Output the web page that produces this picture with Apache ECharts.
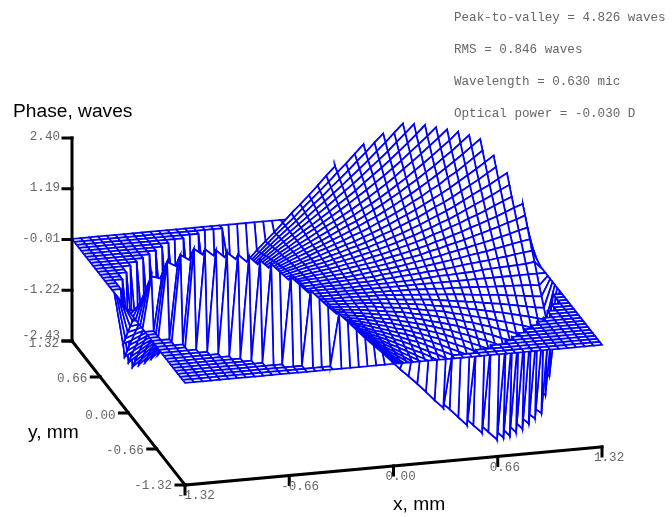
<!DOCTYPE html><html><head><meta charset="utf-8"><style>html,body{margin:0;padding:0;background:#fff}#c{width:672px;height:517px}</style>
<script src="https://cdn.jsdelivr.net/npm/echarts@6/dist/echarts.min.js"></script></head><body><div id="c"></div><script>
var xTicks=["-1.32","-0.66","0.00","0.66","1.32"];
var yTicks=["-1.32","-0.66","0.00","0.66","1.32"];
var zTicks=["-2.43","-1.22","-0.01","1.19","2.40"];
var notes=["Peak-to-valley = 4.826 waves","RMS = 0.846 waves","Wavelength = 0.630 mic","Optical power = -0.030 D"];
var gridSize=49;
// phase in waves over the circular aperture, one row per y from -1.32 to 1.32, centred on x=0; the mesh outside the aperture is 0
var phaseRows=[
[],
[1.23,1.03,.81,.6,.4,.21,0,-.21,-.4,-.6,-.81,-1.03,-1.23],
[1.77,1.56,1.35,1.16,.95,.76,.57,.38,.18,0,-.18,-.38,-.57,-.76,-.95,-1.16,-1.35,-1.56,-1.77],
[2.06,1.86,1.65,1.46,1.26,1.07,.89,.7,.53,.35,.17,0,-.17,-.35,-.53,-.7,-.89,-1.07,-1.26,-1.46,-1.65,-1.86,-2.06],
[2.33,2.13,1.92,1.73,1.53,1.35,1.17,.99,.82,.65,.49,.32,.16,0,-.16,-.32,-.49,-.65,-.82,-.99,-1.17,-1.35,-1.53,-1.73,-1.92,-2.13,-2.33],
[2.37,2.17,1.98,1.78,1.6,1.43,1.25,1.08,.92,.76,.6,.45,.3,.15,0,-.15,-.3,-.45,-.6,-.76,-.92,-1.08,-1.25,-1.43,-1.6,-1.78,-1.98,-2.17,-2.37],
[2.4,2.2,2.01,1.83,1.65,1.48,1.32,1.16,.99,.84,.7,.55,.41,.27,.14,0,-.14,-.27,-.41,-.55,-.7,-.84,-.99,-1.16,-1.32,-1.48,-1.65,-1.83,-2.01,-2.2,-2.42],
[2.4,2.21,2.03,1.86,1.68,1.52,1.36,1.21,1.06,.92,.78,.64,.51,.38,.25,.13,0,-.13,-.25,-.38,-.51,-.64,-.78,-.92,-1.06,-1.21,-1.36,-1.52,-1.68,-1.86,-2.03,-2.21,-2.43],
[2.4,2.22,2.05,1.88,1.71,1.56,1.39,1.24,1.1,.96,.83,.7,.58,.46,.35,.23,.11,0,-.11,-.23,-.35,-.46,-.58,-.7,-.83,-.96,-1.1,-1.24,-1.39,-1.56,-1.71,-1.88,-2.05,-2.22,-2.43],
[2.4,2.21,2.05,1.88,1.72,1.57,1.41,1.27,1.13,1,.87,.76,.64,.53,.42,.31,.21,.1,0,-.1,-.21,-.31,-.42,-.53,-.64,-.76,-.87,-1,-1.13,-1.27,-1.41,-1.57,-1.72,-1.88,-2.05,-2.21,-2.4],
[2.37,2.2,2.03,1.88,1.72,1.58,1.43,1.3,1.16,1.04,.91,.8,.68,.57,.48,.38,.28,.18,.09,0,-.09,-.18,-.28,-.38,-.48,-.57,-.68,-.8,-.91,-1.04,-1.16,-1.3,-1.43,-1.58,-1.72,-1.88,-2.03,-2.2,-2.37],
[2.33,2.17,2.01,1.86,1.71,1.57,1.43,1.3,1.17,1.05,.93,.82,.71,.62,.52,.42,.33,.25,.16,.08,0,-.08,-.16,-.25,-.33,-.42,-.52,-.62,-.71,-.82,-.93,-1.05,-1.17,-1.3,-1.43,-1.57,-1.71,-1.86,-2.01,-2.17,-2.33],
[2.13,1.98,1.83,1.68,1.56,1.41,1.3,1.17,1.06,.94,.83,.73,.64,.54,.45,.38,.29,.22,.14,.08,0,-.08,-.14,-.22,-.29,-.38,-.45,-.54,-.64,-.73,-.83,-.94,-1.06,-1.17,-1.3,-1.41,-1.56,-1.68,-1.83,-1.98,-2.13],
[2.06,1.92,1.78,1.65,1.52,1.39,1.27,1.16,1.05,.94,.84,.75,.65,.56,.48,.4,.32,.26,.19,.13,.06,0,-.06,-.13,-.19,-.26,-.32,-.4,-.48,-.56,-.65,-.75,-.84,-.94,-1.05,-1.16,-1.27,-1.39,-1.52,-1.65,-1.78,-1.92,-2.06],
[1.86,1.73,1.6,1.48,1.36,1.24,1.13,1.04,.93,.83,.75,.66,.57,.5,.42,.35,.28,.23,.16,.11,.05,0,-.05,-.11,-.16,-.23,-.28,-.35,-.42,-.5,-.57,-.66,-.75,-.83,-.93,-1.04,-1.13,-1.24,-1.36,-1.48,-1.6,-1.73,-1.86],
[1.77,1.65,1.53,1.43,1.32,1.21,1.1,1,.91,.82,.73,.65,.57,.5,.43,.37,.3,.25,.19,.14,.09,.04,0,-.04,-.09,-.14,-.19,-.25,-.3,-.37,-.43,-.5,-.57,-.65,-.73,-.82,-.91,-1,-1.1,-1.21,-1.32,-1.43,-1.53,-1.65,-1.77],
[1.56,1.46,1.35,1.25,1.16,1.06,.96,.87,.8,.71,.64,.56,.5,.43,.37,.31,.26,.21,.16,.12,.08,.03,0,-.03,-.08,-.12,-.16,-.21,-.26,-.31,-.37,-.43,-.5,-.56,-.64,-.71,-.8,-.87,-.96,-1.06,-1.16,-1.25,-1.35,-1.46,-1.56],
[1.35,1.26,1.17,1.08,.99,.92,.83,.76,.68,.62,.54,.48,.42,.37,.31,.26,.22,.17,.13,.1,.06,.03,0,-.03,-.06,-.1,-.13,-.17,-.22,-.26,-.31,-.37,-.42,-.48,-.54,-.62,-.68,-.76,-.83,-.92,-.99,-1.08,-1.17,-1.26,-1.35],
[1.23,1.16,1.07,.99,.92,.84,.78,.7,.64,.57,.52,.45,.4,.35,.3,.26,.22,.17,.14,.11,.08,.05,.02,0,-.02,-.05,-.08,-.11,-.14,-.17,-.22,-.26,-.3,-.35,-.4,-.45,-.52,-.57,-.64,-.7,-.78,-.84,-.92,-.99,-1.07,-1.16,-1.23],
[1.03,.95,.89,.82,.76,.7,.64,.58,.53,.48,.42,.38,.32,.28,.25,.21,.17,.14,.11,.09,.05,.03,.02,0,-.02,-.03,-.05,-.09,-.11,-.14,-.17,-.21,-.25,-.28,-.32,-.38,-.42,-.48,-.53,-.58,-.64,-.7,-.76,-.82,-.89,-.95,-1.03],
[.81,.76,.7,.65,.6,.55,.51,.46,.42,.38,.33,.29,.26,.23,.19,.16,.13,.11,.09,.06,.04,.02,.01,0,-.01,-.02,-.04,-.06,-.09,-.11,-.13,-.16,-.19,-.23,-.26,-.29,-.33,-.38,-.42,-.46,-.51,-.55,-.6,-.65,-.7,-.76,-.81],
[.6,.57,.53,.49,.45,.41,.38,.35,.31,.28,.25,.22,.19,.16,.14,.12,.1,.08,.05,.04,.03,.02,.01,0,-.01,-.02,-.03,-.04,-.05,-.08,-.1,-.12,-.14,-.16,-.19,-.22,-.25,-.28,-.31,-.35,-.38,-.41,-.45,-.49,-.53,-.57,-.6],
[.4,.38,.35,.32,.3,.27,.25,.23,.21,.18,.16,.14,.13,.11,.09,.08,.06,.05,.03,.02,.02,.01,0,0,0,-.01,-.02,-.02,-.03,-.05,-.06,-.08,-.09,-.11,-.13,-.14,-.16,-.18,-.21,-.23,-.25,-.27,-.3,-.32,-.35,-.38,-.4],
[.21,.18,.17,.16,.15,.14,.13,.11,.1,.09,.08,.08,.06,.05,.04,.03,.03,.02,.02,.01,.01,0,0,0,0,0,-.01,-.01,-.02,-.02,-.03,-.03,-.04,-.05,-.06,-.08,-.08,-.09,-.1,-.11,-.13,-.14,-.15,-.16,-.17,-.18,-.21],
[],
[-.21,-.18,-.17,-.16,-.15,-.14,-.13,-.11,-.1,-.09,-.08,-.08,-.06,-.05,-.04,-.03,-.03,-.02,-.02,-.01,-.01,0,0,0,0,0,.01,.01,.02,.02,.03,.03,.04,.05,.06,.08,.08,.09,.1,.11,.13,.14,.15,.16,.17,.18,.21],
[-.4,-.38,-.35,-.32,-.3,-.27,-.25,-.23,-.21,-.18,-.16,-.14,-.13,-.11,-.09,-.08,-.06,-.05,-.03,-.02,-.02,-.01,0,0,0,.01,.02,.02,.03,.05,.06,.08,.09,.11,.13,.14,.16,.18,.21,.23,.25,.27,.3,.32,.35,.38,.4],
[-.6,-.57,-.53,-.49,-.45,-.41,-.38,-.35,-.31,-.28,-.25,-.22,-.19,-.16,-.14,-.12,-.1,-.08,-.05,-.04,-.03,-.02,-.01,0,.01,.02,.03,.04,.05,.08,.1,.12,.14,.16,.19,.22,.25,.28,.31,.35,.38,.41,.45,.49,.53,.57,.6],
[-.81,-.76,-.7,-.65,-.6,-.55,-.51,-.46,-.42,-.38,-.33,-.29,-.26,-.23,-.19,-.16,-.13,-.11,-.09,-.06,-.04,-.02,-.01,0,.01,.02,.04,.06,.09,.11,.13,.16,.19,.23,.26,.29,.33,.38,.42,.46,.51,.55,.6,.65,.7,.76,.81],
[-1.03,-.95,-.89,-.82,-.76,-.7,-.64,-.58,-.53,-.48,-.42,-.38,-.32,-.28,-.25,-.21,-.17,-.14,-.11,-.09,-.05,-.03,-.02,0,.02,.03,.05,.09,.11,.14,.17,.21,.25,.28,.32,.38,.42,.48,.53,.58,.64,.7,.76,.82,.89,.95,1.03],
[-1.23,-1.16,-1.07,-.99,-.92,-.84,-.78,-.7,-.64,-.57,-.52,-.45,-.4,-.35,-.3,-.26,-.22,-.17,-.14,-.11,-.08,-.05,-.02,0,.02,.05,.08,.11,.14,.17,.22,.26,.3,.35,.4,.45,.52,.57,.64,.7,.78,.84,.92,.99,1.07,1.16,1.23],
[-1.35,-1.26,-1.17,-1.08,-.99,-.92,-.83,-.76,-.68,-.62,-.54,-.48,-.42,-.37,-.31,-.26,-.22,-.17,-.13,-.1,-.06,-.03,0,.03,.06,.1,.13,.17,.22,.26,.31,.37,.42,.48,.54,.62,.68,.76,.83,.92,.99,1.08,1.17,1.26,1.35],
[-1.56,-1.46,-1.35,-1.25,-1.16,-1.06,-.96,-.87,-.8,-.71,-.64,-.56,-.5,-.43,-.37,-.31,-.26,-.21,-.16,-.12,-.08,-.03,0,.03,.08,.12,.16,.21,.26,.31,.37,.43,.5,.56,.64,.71,.8,.87,.96,1.06,1.16,1.25,1.35,1.46,1.56],
[-1.77,-1.65,-1.53,-1.43,-1.32,-1.21,-1.1,-1,-.91,-.82,-.73,-.65,-.57,-.5,-.43,-.37,-.3,-.25,-.19,-.14,-.09,-.04,0,.04,.09,.14,.19,.25,.3,.37,.43,.5,.57,.65,.73,.82,.91,1,1.1,1.21,1.32,1.43,1.53,1.65,1.77],
[-1.86,-1.73,-1.6,-1.48,-1.36,-1.24,-1.13,-1.04,-.93,-.83,-.75,-.66,-.57,-.5,-.42,-.35,-.28,-.23,-.16,-.11,-.05,0,.05,.11,.16,.23,.28,.35,.42,.5,.57,.66,.75,.83,.93,1.04,1.13,1.24,1.36,1.48,1.6,1.73,1.86],
[-2.06,-1.92,-1.78,-1.65,-1.52,-1.39,-1.27,-1.16,-1.05,-.94,-.84,-.75,-.65,-.56,-.48,-.4,-.32,-.26,-.19,-.13,-.06,0,.06,.13,.19,.26,.32,.4,.48,.56,.65,.75,.84,.94,1.05,1.16,1.27,1.39,1.52,1.65,1.78,1.92,2.06],
[-2.13,-1.98,-1.83,-1.68,-1.56,-1.41,-1.3,-1.17,-1.06,-.94,-.83,-.73,-.64,-.54,-.45,-.38,-.29,-.22,-.14,-.08,0,.08,.14,.22,.29,.38,.45,.54,.64,.73,.83,.94,1.06,1.17,1.3,1.41,1.56,1.68,1.83,1.98,2.13],
[-2.33,-2.17,-2.01,-1.86,-1.71,-1.57,-1.43,-1.3,-1.17,-1.05,-.93,-.82,-.71,-.62,-.52,-.42,-.33,-.25,-.16,-.08,0,.08,.16,.25,.33,.42,.52,.62,.71,.82,.93,1.05,1.17,1.3,1.43,1.57,1.71,1.86,2.01,2.17,2.33],
[-2.37,-2.2,-2.03,-1.88,-1.72,-1.58,-1.43,-1.3,-1.16,-1.04,-.91,-.8,-.68,-.57,-.48,-.38,-.28,-.18,-.09,0,.09,.18,.28,.38,.48,.57,.68,.8,.91,1.04,1.16,1.3,1.43,1.58,1.72,1.88,2.03,2.2,2.37],
[-2.4,-2.21,-2.05,-1.88,-1.72,-1.57,-1.41,-1.27,-1.13,-1,-.87,-.76,-.64,-.53,-.42,-.31,-.21,-.1,0,.1,.21,.31,.42,.53,.64,.76,.87,1,1.13,1.27,1.41,1.57,1.72,1.88,2.05,2.21,2.4],
[-2.4,-2.22,-2.05,-1.88,-1.71,-1.56,-1.39,-1.24,-1.1,-.96,-.83,-.7,-.58,-.46,-.35,-.23,-.11,0,.11,.23,.35,.46,.58,.7,.83,.96,1.1,1.24,1.39,1.56,1.71,1.88,2.05,2.22,2.4],
[-2.4,-2.21,-2.03,-1.86,-1.68,-1.52,-1.36,-1.21,-1.06,-.92,-.78,-.64,-.51,-.38,-.25,-.13,0,.13,.25,.38,.51,.64,.78,.92,1.06,1.21,1.36,1.52,1.68,1.86,2.03,2.21,2.4],
[-2.4,-2.2,-2.01,-1.83,-1.65,-1.48,-1.32,-1.16,-.99,-.84,-.7,-.55,-.41,-.27,-.14,0,.14,.27,.41,.55,.7,.84,.99,1.16,1.32,1.48,1.65,1.83,2.01,2.2,2.4],
[-2.37,-2.17,-1.98,-1.78,-1.6,-1.43,-1.25,-1.08,-.92,-.76,-.6,-.45,-.3,-.15,0,.15,.3,.45,.6,.76,.92,1.08,1.25,1.43,1.6,1.78,1.98,2.17,2.37],
[-2.33,-2.13,-1.92,-1.73,-1.53,-1.35,-1.17,-.99,-.82,-.65,-.49,-.32,-.16,0,.16,.32,.49,.65,.82,.99,1.17,1.35,1.53,1.73,1.92,2.13,2.33],
[-2.06,-1.86,-1.65,-1.46,-1.26,-1.07,-.89,-.7,-.53,-.35,-.17,0,.17,.35,.53,.7,.89,1.07,1.26,1.46,1.65,1.86,2.06],
[-1.77,-1.56,-1.35,-1.16,-.95,-.76,-.57,-.38,-.18,0,.18,.38,.57,.76,.95,1.16,1.35,1.56,1.77],
[-1.23,-1.03,-.81,-.6,-.4,-.21,0,.21,.4,.6,.81,1.03,1.23],
[]
];
var N=gridSize;
function zAt(i,j){var r=phaseRows[j],m=(N-r.length)/2,k=i-m;return k>=0&&k<r.length?r[k]:0}
function P(u,v,w){return [185+417*u-113*v,485-38*u-144*v-203*w]}
function WZ(z){return (z+2.43)/4.83}
var q=[];for(var j=N-2;j>=0;j--)for(var i=N-2;i>=0;i--)q.push([i,j]);
function qr(p,api){var i=api.value(0),j=api.value(1),s=1/(N-1),c=[[i,j],[i+1,j],[i+1,j+1],[i,j+1]].map(function(k){return api.coord(P(k[0]*s,k[1]*s,WZ(zAt(k[0],k[1]))))});
return {type:'polygon',shape:{points:c},style:{fill:'#fff',stroke:'#0000ff',lineWidth:1.7,lineJoin:'miter'}}}
var seg=[],txt=[];
function L(a,b,w){seg.push([a,b,w])}
L(P(0,1,1),P(0,1,0),3);L(P(0,1,0),P(0,0,0),3);L(P(0,0,0),P(1,0,0),3);
var mono='"Liberation Mono",monospace';
function T(x,y,s,al,col,fs,ff){txt.push([x,y,s,al,col,fs,ff])}
var G='#666',K='#000',zo=[-5,-1,-1,-1,-1],yo=[1,2,3,2,3];
for(var k=0;k<5;k++){var a=P(0,1,k/4);L([a[0]-9,a[1]],a,3);T(a[0]-12,a[1]+zo[k],zTicks[k],'right',G,12.6,mono);
a=P(0,k/4,0);L([a[0]-9,a[1]],a,3);T(a[0]-13,a[1]+yo[k],yTicks[k],'right',G,12.6,mono);
a=P(k/4,0,0);L(a,[a[0],a[1]+9],3);T(a[0]-8,a[1]+11,xTicks[k],'left',G,12.6,mono);}
notes.forEach(function(s,k){T(454,17.5+32*k,s,'left',G,12.6,mono)});
var sans='"Liberation Sans",sans-serif';
T(13,112,"Phase, waves",'left',K,19.2,sans);T(28,433,"y, mm",'left',K,19.2,sans);T(393,505,"x, mm",'left',K,19.2,sans);
var chart=echarts.init(document.getElementById('c'),null,{renderer:'canvas'});
chart.setOption({animation:false,grid:{left:0,right:0,top:0,bottom:0},
xAxis:{type:'value',min:0,max:672,show:false},yAxis:{type:'value',min:0,max:517,inverse:true,show:false},
series:[{type:'custom',silent:true,clip:false,data:q,progressive:0,renderItem:qr,encode:{x:0,y:1}},
{type:'custom',silent:true,clip:false,data:seg.map(function(s,i){return [i]}),progressive:0,renderItem:function(p,api){var s=seg[api.value(0)],a=api.coord(s[0]),b=api.coord(s[1]);return {type:'line',shape:{x1:a[0],y1:a[1],x2:b[0],y2:b[1]},style:{stroke:'#000',lineWidth:s[2],lineCap:'square'}}}},
{type:'custom',silent:true,clip:false,data:txt.map(function(s,i){return [i]}),progressive:0,renderItem:function(p,api){var s=txt[api.value(0)],a=api.coord([s[0],s[1]]);return {type:'text',x:a[0],y:a[1],style:{text:s[2],textAlign:s[3],textVerticalAlign:'middle',fill:s[4],fontSize:s[5],fontFamily:s[6]}}}}]});
</script></body></html>
